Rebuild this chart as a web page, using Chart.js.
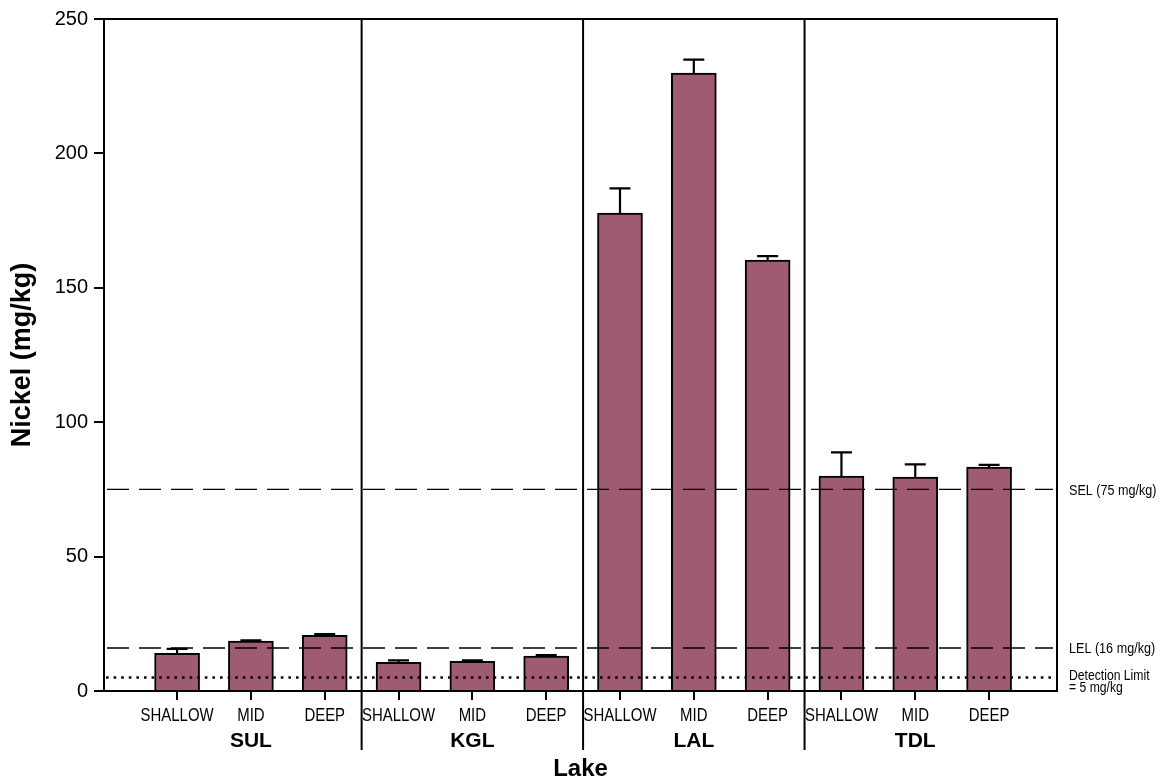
<!DOCTYPE html>
<html>
<head>
<meta charset="utf-8">
<script src="https://cdn.jsdelivr.net/npm/chart.js@4"></script>
<style>
html,body{margin:0;padding:0;background:#fff;}
#wrap{width:1166px;height:783px;position:relative;}
</style>
</head>
<body>
<div id="wrap"><canvas id="c" width="1166" height="783"></canvas></div>
<script>
// ---- data ----
const lakes = ['SUL', 'KGL', 'LAL', 'TDL'];
const depths = ['SHALLOW', 'MID', 'DEEP'];
const categories = ['SHALLOW','MID','DEEP','SHALLOW','MID','DEEP','SHALLOW','MID','DEEP','SHALLOW','MID','DEEP'];
const nickelMean = [14.0, 18.6, 20.7, 10.7, 11.0, 13.0, 177.8, 229.9, 160.3, 80.0, 79.6, 83.3];
const nickelUpper = [15.7, 18.8, 21.2, 11.4, 11.4, 13.4, 187.0, 234.9, 161.8, 88.8, 84.3, 84.1];
const yTicks = [0, 50, 100, 150, 200, 250];
const refValues = [75, 16];
const refLabels = ['SEL (75 mg/kg)', 'LEL (16 mg/kg)'];
const detectionLimit = 5;
const detectionLabel = ['Detection Limit', '= 5 mg/kg'];

const SANS = "'Liberation Sans', Arial, sans-serif";

const points = nickelMean.map((v, i) => ({x: i, y: v}));

function narrowText(ctx, text, x, y, sx, align) {
  ctx.save();
  ctx.translate(x, y);
  ctx.scale(sx, 1);
  ctx.textAlign = align;
  ctx.fillText(text, 0, 0);
  ctx.restore();
}

const overlay = {
  id: 'overlay',
  afterDatasetsDraw(chart) {
    const ctx = chart.ctx;
    const xs = chart.scales.x, ys = chart.scales.y;
    const a = chart.chartArea;
    ctx.save();
    // error bars
    ctx.strokeStyle = '#000';
    ctx.lineWidth = 2.2;
    nickelUpper.forEach((u, i) => {
      const x = xs.getPixelForValue(i);
      const y0 = ys.getPixelForValue(nickelMean[i]);
      const y1 = ys.getPixelForValue(u);
      ctx.beginPath();
      ctx.moveTo(x, y0); ctx.lineTo(x, y1);
      ctx.moveTo(x - 10.5, y1); ctx.lineTo(x + 10.5, y1);
      ctx.stroke();
    });
    // reference dashed lines
    ctx.lineWidth = 1.3;
    ctx.setLineDash([22, 10]);
    refValues.forEach(v => {
      const y = ys.getPixelForValue(v);
      ctx.beginPath(); ctx.moveTo(a.left + 3, y); ctx.lineTo(a.right - 4, y); ctx.stroke();
    });
    // detection limit dotted
    ctx.lineWidth = 2.6;
    ctx.setLineDash([2.6, 5]);
    const yd = ys.getPixelForValue(detectionLimit);
    ctx.beginPath(); ctx.moveTo(a.left + 2, yd); ctx.lineTo(a.right - 2, yd); ctx.stroke();
    ctx.setLineDash([]);
    // frame
    ctx.lineWidth = 2;
    ctx.strokeRect(a.left, a.top, a.right - a.left, a.bottom - a.top);
    // group separators
    for (let g = 1; g < lakes.length; g++) {
      const x = xs.getPixelForValue(g * 3 - 0.5);
      ctx.beginPath(); ctx.moveTo(x, a.top); ctx.lineTo(x, 750); ctx.stroke();
    }
    ctx.fillStyle = '#000';
    ctx.textBaseline = 'middle';
    // category labels (narrow)
    ctx.font = '18px ' + SANS;
    categories.forEach((c, i) => {
      narrowText(ctx, c, xs.getPixelForValue(i), 716, 0.83, 'center');
    });
    // group labels
    ctx.textAlign = 'center';
    ctx.font = 'bold 21px ' + SANS;
    lakes.forEach((l, g) => {
      ctx.fillText(l, xs.getPixelForValue(g * 3 + 1), 741);
    });
    // x title
    ctx.font = 'bold 24px ' + SANS;
    ctx.fillText('Lake', (a.left + a.right) / 2, 769);
    // right annotations
    ctx.font = '15px ' + SANS;
    refValues.forEach((v, i) => {
      narrowText(ctx, refLabels[i], 1069, ys.getPixelForValue(v) + 1, 0.84, 'left');
    });
    ctx.font = '14.5px ' + SANS;
    narrowText(ctx, detectionLabel[0], 1069, 676, 0.84, 'left');
    narrowText(ctx, detectionLabel[1], 1069, 688, 0.84, 'left');
    ctx.restore();
  }
};

new Chart(document.getElementById('c'), {
  type: 'bar',
  data: {
    datasets: [{
      data: points,
      backgroundColor: '#9E5B72',
      borderColor: '#000',
      borderWidth: 2,
      barThickness: 45
    }]
  },
  options: {
    responsive: false,
    animation: false,
    devicePixelRatio: 1,
    layout: {padding: {left: 0, right: 109, top: 19, bottom: 0}},
    plugins: {legend: {display: false}, tooltip: {enabled: false}},
    scales: {
      x: {
        type: 'linear',
        offset: false,
        min: -0.99,
        max: 11.92,
        afterBuildTicks: s => { s.ticks = categories.map((c, i) => ({value: i})); },
        afterFit: s => { s.height = 92; },
        ticks: {display: false},
        grid: {display: true, drawOnChartArea: false, drawTicks: true, tickLength: 9, color: '#000', lineWidth: 2, offset: false},
        border: {display: true, color: '#000', width: 2}
      },
      y: {
        min: 0,
        max: 250,
        afterBuildTicks: s => { s.ticks = yTicks.map(v => ({value: v})); },
        afterFit: s => { s.width = 104; },
        ticks: {padding: 6, color: '#000', font: {family: SANS, size: 20}},
        grid: {display: true, drawOnChartArea: false, drawTicks: true, tickLength: 10, color: '#000', lineWidth: 2},
        border: {display: true, color: '#000', width: 2},
        title: {display: true, text: 'Nickel (mg/kg)', color: '#000', font: {family: SANS, size: 27, weight: 'bold'}, padding: {top: 6, bottom: 0}}
      }
    }
  },
  plugins: [overlay]
});
</script>
</body>
</html>
